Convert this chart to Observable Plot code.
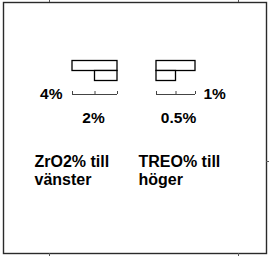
<!DOCTYPE html>
<html>
<head>
<meta charset="utf-8">
<script src="https://cdn.jsdelivr.net/npm/d3@7"></script>
<script src="https://cdn.jsdelivr.net/npm/@observablehq/plot@0.6"></script>
<style>
  html, body { margin: 0; padding: 0; background: #fff; }
</style>
</head>
<body>
<div id="chart"></div>
<script>
// ---- data ----
const panels = ["ZrO2%", "TREO%"];
const zrValues = [4, 2];          // ZrO2 % bars (drawn to the left)
const treoValues = [1, 0.5];      // TREO % bars (drawn to the right)
const zrScaleTicks = [0, 2, 4];
const treoScaleTicks = [0, 0.5, 1];
const zrTickLabels = ["4%", "2%"];
const treoTickLabels = ["1%", "0.5%"];
const captions = ["ZrO2% till\nvänster", "TREO% till\nhöger"];
const frameXTicks = [49, 238];
const frameYTicks = [161];

// ---- layout (pixel units of the legend box) ----
const zrAnchor = 117, zrPx = 45 / 4;       // px per percent
const treoAnchor = 156, treoPx = 39 / 1;
const rowTop = 60.5, rowH = 10;
const scaleY = 94;
const font = "Liberation Sans, Arial, Helvetica, sans-serif";

const zrBars = zrValues.map((v, i) => ({x1: zrAnchor - v * zrPx, x2: zrAnchor, y1: rowTop + i * rowH, y2: rowTop + (i + 1) * rowH}));
const treoBars = treoValues.map((v, i) => ({x1: treoAnchor, x2: treoAnchor + v * treoPx, y1: rowTop + i * rowH, y2: rowTop + (i + 1) * rowH}));
const bars = zrBars.concat(treoBars);

const zrMax = d3.max(zrScaleTicks), treoMax = d3.max(treoScaleTicks);
const scaleLines = [
  {x1: zrAnchor - zrMax * zrPx, x2: zrAnchor},
  {x1: treoAnchor, x2: treoAnchor + treoMax * treoPx}
];
const scaleTickMarks = zrScaleTicks.map(t => zrAnchor - t * zrPx)
  .concat(treoScaleTicks.map(t => treoAnchor + t * treoPx));

const endLabelsLeft = [{x: zrAnchor - zrMax * zrPx - 10, y: scaleY, text: zrTickLabels[0]}];
const endLabelsRight = [{x: treoAnchor + treoMax * treoPx + 8, y: scaleY, text: treoTickLabels[0]}];
const midLabels = [
  {x: zrAnchor - zrScaleTicks[1] * zrPx - 1.5, y: scaleY + 23.5, text: zrTickLabels[1]},
  {x: treoAnchor + treoScaleTicks[1] * treoPx + 2.5, y: scaleY + 23.5, text: treoTickLabels[1]}
];
const captionData = [
  {x: 34, y: 154, text: captions[0]},
  {x: 138, y: 154, text: captions[1]}
];

const textStyle = {fontSize: 15.5, fontWeight: "bold", fill: "#000"};

const chart = Plot.plot({
  width: 270,
  height: 259,
  marginLeft: 3,
  marginRight: 4,
  marginTop: 2,
  marginBottom: 6,
  x: {domain: [3, 266], axis: null},
  y: {domain: [2, 253], range: [2, 253], axis: null},
  style: {fontFamily: font, background: "#fff"},
  marks: [
    Plot.frame({stroke: "#2a2a2a", strokeWidth: 1.4}),
    Plot.ruleX(frameXTicks, {x: d => d, y1: 253, y2: 256, stroke: "#555", strokeWidth: 1}),
    Plot.ruleX(frameXTicks, {x: d => d, y1: -1, y2: 2, stroke: "#555", strokeWidth: 1}),
    Plot.ruleY(frameYTicks, {y: d => d, x1: 266, x2: 269, stroke: "#555", strokeWidth: 1}),
    Plot.rect(bars, {x1: "x1", x2: "x2", y1: "y1", y2: "y2", fill: "#fff", stroke: "#000", strokeWidth: 1.3}),
    Plot.ruleY(scaleLines, {y: scaleY, x1: "x1", x2: "x2", stroke: "#444", strokeWidth: 1}),
    Plot.ruleX(scaleTickMarks, {x: d => d, y1: scaleY - 3, y2: scaleY, stroke: "#444", strokeWidth: 1}),
    Plot.text(endLabelsLeft, {x: "x", y: "y", text: "text", textAnchor: "end", ...textStyle}),
    Plot.text(endLabelsRight, {x: "x", y: "y", text: "text", textAnchor: "start", ...textStyle}),
    Plot.text(midLabels, {x: "x", y: "y", text: "text", textAnchor: "middle", ...textStyle}),
    Plot.text(captionData, {x: "x", y: "y", text: "text", textAnchor: "start", lineAnchor: "top", lineHeight: 1.1, fontSize: 16, fontWeight: "bold", fill: "#000"})
  ]
});
chart.setAttribute("overflow", "visible");
document.getElementById("chart").appendChild(chart);
</script>
</body>
</html>
